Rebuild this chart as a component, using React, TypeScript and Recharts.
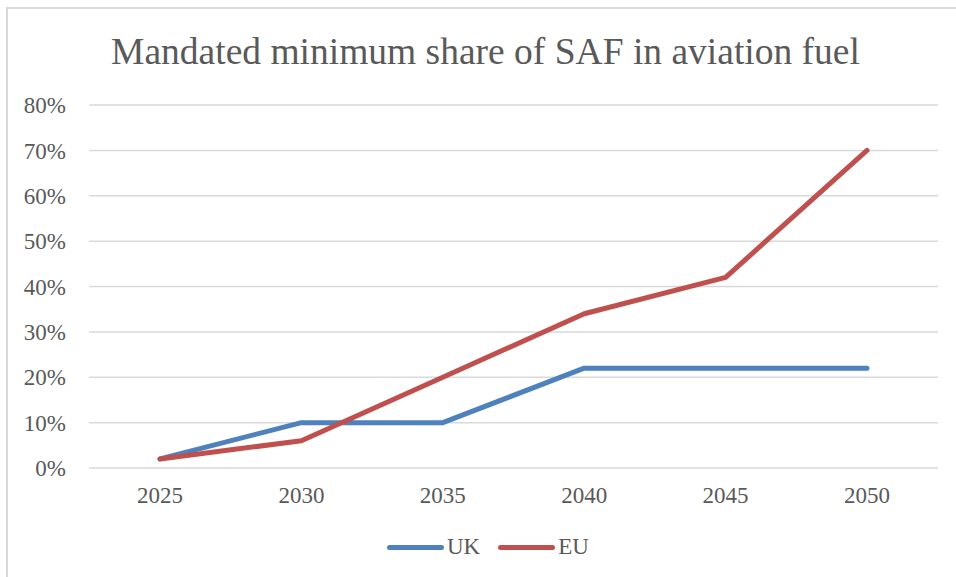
import React from "react";
import { LineChart, Line, XAxis, YAxis, CartesianGrid } from "recharts";

const years = ["2025", "2030", "2035", "2040", "2045", "2050"];
const ukShare = [2, 10, 10, 22, 22, 22];
const euShare = [2, 6, 20, 34, 42, 70];
const yTicks = [0, 10, 20, 30, 40, 50, 60, 70, 80];

const UK_COLOR = "#4F81BD";
const EU_COLOR = "#C0504D";
const TEXT = "#595959";
const FONT = "'Liberation Serif', 'Times New Roman', serif";

const data = years.map((year, i) => ({ year, UK: ukShare[i], EU: euShare[i] }));

const series = [
  { key: "UK", color: UK_COLOR },
  { key: "EU", color: EU_COLOR },
];

export default function App() {
  return (
    <div
      style={{
        position: "fixed",
        left: 0,
        top: 0,
        width: 956,
        height: 577,
        overflow: "hidden",
        background: "#fff",
        fontFamily: FONT,
      }}
    >
      <div
        style={{
          position: "absolute",
          left: 6,
          top: 7,
          width: 1000,
          height: 700,
          border: "2px solid #D9D9D9",
        }}
      />
      <div
        style={{
          position: "absolute",
          left: 0,
          width: 971,
          top: 33,
          textAlign: "center",
          fontSize: 37.5,
          lineHeight: 1,
          color: TEXT,
        }}
      >
        Mandated minimum share of SAF in aviation fuel
      </div>
      <LineChart
        width={956}
        height={577}
        data={data}
        margin={{ top: 105, right: 18, left: 0, bottom: 69 }}
        style={{ position: "absolute", left: 0, top: 0 }}
      >
        <CartesianGrid vertical={false} stroke="#D9D9D9" strokeWidth={1.5} />
        <XAxis
          dataKey="year"
          axisLine={false}
          tickLine={false}
          tickMargin={13}
          height={40}
          padding={{ left: 71, right: 71 }}
          tick={{ fill: TEXT, fontSize: 23, fontFamily: FONT }}
        />
        <YAxis
          domain={[0, 80]}
          ticks={yTicks}
          interval={0}
          width={89}
          axisLine={false}
          tickLine={false}
          tickMargin={17}
          tickFormatter={(v: number) => `${v}%`}
          tick={{ fill: TEXT, fontSize: 23, fontFamily: FONT }}
        />
        {series.map((s) => (
          <Line
            key={s.key}
            dataKey={s.key}
            type="linear"
            stroke={s.color}
            strokeWidth={5}
            strokeLinecap="round"
            strokeLinejoin="round"
            dot={false}
            activeDot={false}
            isAnimationActive={false}
          />
        ))}
      </LineChart>
      <div
        style={{
          position: "absolute",
          left: 387,
          top: 533,
          display: "flex",
          alignItems: "center",
          fontSize: 23,
          color: TEXT,
          lineHeight: "28px",
        }}
      >
        {series.map((s, i) => (
          <div key={s.key} style={{ display: "flex", alignItems: "center", marginRight: i === 0 ? 18 : 0 }}>
            <div style={{ width: 57, height: 5, borderRadius: 3, background: s.color, marginRight: 3 }} />
            <span>{s.key}</span>
          </div>
        ))}
      </div>
    </div>
  );
}
